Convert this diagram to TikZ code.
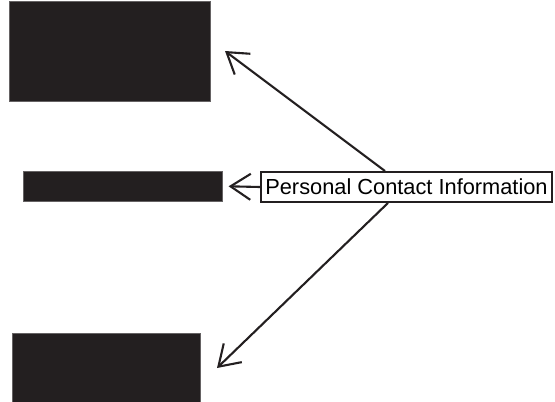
\documentclass[tikz,border=0pt]{standalone}
\usepackage{fontspec}
\setmainfont{Liberation Sans}
\usetikzlibrary{arrows.meta}
\definecolor{ink}{HTML}{231F20}
\begin{document}
\begin{tikzpicture}[x=1pt,y=-1pt,
  blackbox/.style={draw=ink!70,line width=0.6pt,fill=ink,inner sep=0pt,anchor=north west},
  pointer/.style={draw=ink,line width=2.1pt,-{Straight Barb[length=20pt,width=26pt,line width=2.1pt]}},
  labelbox/.style={draw=ink,line width=1.9pt,fill=white,inner sep=0pt,minimum width=291pt,minimum height=30pt,font=\fontsize{21.8}{24}\selectfont}]
\useasboundingbox (0,0) rectangle (555,402);
\node[blackbox,minimum width=201pt,minimum height=100pt] (top) at (9,1) {};
\node[blackbox,minimum width=199pt,minimum height=30pt] (mid) at (23,171) {};
\node[blackbox,minimum width=188pt,minimum height=70pt] (bot) at (12,333) {};
\coordinate (tipA) at (225,51);
\coordinate (tipC) at (217,368);
\node[labelbox] (lab) at (406.5,187) {Personal Contact Information};
\draw[pointer] ([xshift=-21.5pt]lab.north) -- (tipA);
\draw[pointer] (lab.west) -- ([xshift=6pt]mid.east);
\draw[pointer] ([xshift=-18.5pt]lab.south) -- (tipC);
\end{tikzpicture}
\end{document}
